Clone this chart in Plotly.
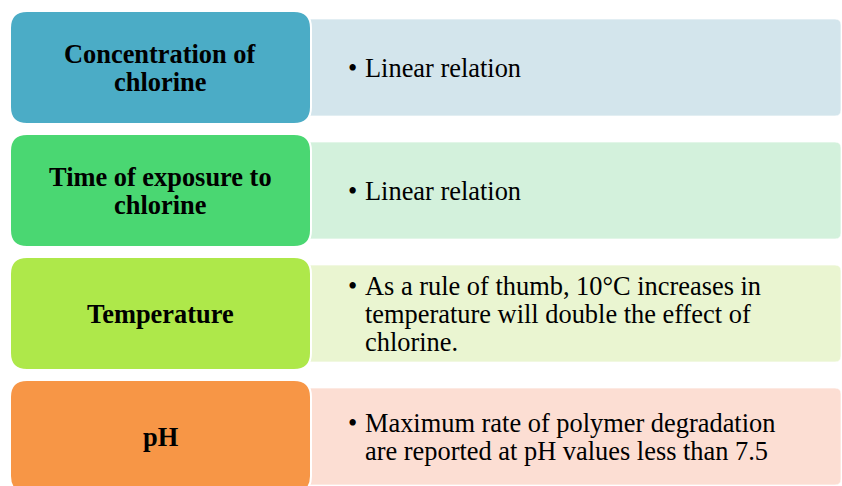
import plotly.graph_objects as go

# ---- data ----
factors = [["Concentration of", "chlorine"],
           ["Time of exposure to", "chlorine"],
           ["Temperature"],
           ["pH"]]
effects = [["Linear relation"],
           ["Linear relation"],
           ["As a rule of thumb, 10°C increases in",
            "temperature will double the effect of",
            "chlorine."],
           ["Maximum rate of polymer degradation",
            "are reported at pH values less than 7.5"]]
dark_colors = ["#4BACC6", "#4AD772", "#AEE84A", "#F79646"]
light_colors = ["#D3E5EC", "#D3F1DC", "#EAF5D1", "#FCDED3"]

# ---- layout parameters ----
W, H = 842, 486
top0, step, box_h = 11, 123, 113
lx0, lx1, lr = 10, 311, 17
rx0, rx1, rinset, rr = 305, 841, 8, 6
FAM = "Liberation Serif, Times New Roman, Times, serif"
left_font = dict(family=FAM, size=26.4, color="black")
right_font = dict(family=FAM, size=26.4, color="black")
left_lh, right_lh = 28, 28


def rrect(x0, y0, x1, y1, r_tl, r_tr, r_br, r_bl):
    return (f"M {x0+r_tl},{y0} L {x1-r_tr},{y0} Q {x1},{y0} {x1},{y0+r_tr} "
            f"L {x1},{y1-r_br} Q {x1},{y1} {x1-r_br},{y1} L {x0+r_bl},{y1} "
            f"Q {x0},{y1} {x0},{y1-r_bl} L {x0},{y0+r_tl} Q {x0},{y0} {x0+r_tl},{y0} Z")


fig = go.Figure()
shapes, anns = [], []
for i, (f, e) in enumerate(zip(factors, effects)):
    y0 = top0 + i * step
    y1 = y0 + box_h
    cy = (y0 + y1) / 2
    shapes.append(dict(type="path", xref="x", yref="y",
                       path=rrect(rx0, y0 + rinset, rx1, y1 - rinset, 0, rr, rr, 0),
                       fillcolor=light_colors[i], line=dict(color="rgba(255,255,255,0.7)", width=1),
                       layer="below"))
    shapes.append(dict(type="path", xref="x", yref="y",
                       path=rrect(lx0, y0, lx1, y1, lr, lr, lr, lr),
                       fillcolor=dark_colors[i], line=dict(color="white", width=2),
                       layer="above"))
    n = len(f)
    for j, line in enumerate(f):
        yy = cy + (j - (n - 1) / 2) * left_lh
        anns.append(dict(x=(lx0 + lx1) / 2, y=yy, xref="x", yref="y", text=f"<b>{line}</b>",
                         showarrow=False, xanchor="center", yanchor="middle",
                         borderpad=0, font=left_font))
    m = len(e)
    for j, line in enumerate(e):
        yy = cy + (j - (m - 1) / 2) * right_lh
        if j == 0:
            anns.append(dict(x=347, y=yy, xref="x", yref="y", text="•",
                             showarrow=False, xanchor="left", yanchor="middle",
                             borderpad=0, font=right_font))
        anns.append(dict(x=364, y=yy, xref="x", yref="y", text=line,
                         showarrow=False, xanchor="left", yanchor="middle",
                         borderpad=0, font=right_font))

fig.update_layout(
    width=W, height=H, margin=dict(l=0, r=0, t=0, b=0),
    paper_bgcolor="white", plot_bgcolor="white",
    xaxis=dict(range=[0, W], visible=False, fixedrange=True),
    yaxis=dict(range=[H, 0], visible=False, fixedrange=True),
    shapes=shapes, annotations=anns, showlegend=False,
)
fig.write_html("out.html", config=dict(displayModeBar=False),
               post_script="document.body.style.margin='0';document.body.style.overflow='hidden';")
